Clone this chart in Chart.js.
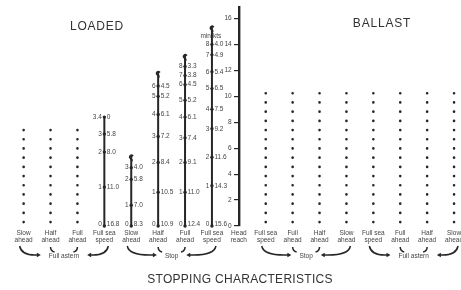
<!DOCTYPE html>
<html>
<head>
<meta charset="utf-8">
<title>Stopping characteristics</title>
<script src="https://cdn.jsdelivr.net/npm/chart.js@4.4.0/dist/chart.umd.min.js"></script>
<style>
  html, body { margin: 0; padding: 0; background: #fff; }
  #wrap { width: 461px; height: 290px; }
</style>
</head>
<body>
<div id="wrap"><canvas id="stopChart"></canvas></div>
<script>
// Stopping characteristics - loaded / ballast

// Columns along the bottom, left to right
const colLabels = [
  ["Slow", "ahead"], ["Half", "ahead"], ["Full", "ahead"], ["Full sea", "speed"],
  ["Slow", "ahead"], ["Half", "ahead"], ["Full", "ahead"], ["Full sea", "speed"],
  ["Head", "reach"],
  ["Full sea", "speed"], ["Full", "ahead"], ["Half", "ahead"], ["Slow", "ahead"],
  ["Full sea", "speed"], ["Full", "ahead"], ["Half", "ahead"], ["Slow", "ahead"],
]

// Head reach axis (cables)
const yTicks = [0, 2, 4, 6, 8, 10, 12, 14, 16]
const axisCol = 8

// Dotted columns: column index, reach from / to
const dottedCols = [0, 1, 2, 9, 10, 11, 12, 13, 14, 15, 16]
const dottedFrom = [0.3, 0.3, 0.3, 0.3, 0.3, 0.3, 0.3, 0.3, 0.3, 0.3, 0.3]
const dottedTo = [7.6, 7.6, 7.6, 10.4, 10.4, 10.4, 10.4, 10.4, 10.4, 10.4, 10.4]

// Solid tracks: column, top of line, broken top?
const trackCols = [3, 4, 5, 6, 7]
const trackTop = [8.4, 5.45, 11.9, 13.2, 15.4]
const trackBreak = [false, true, true, true, true]

// Marks along each track: reach, minutes, knots
const trackDist = [
  [0, 3.0, 5.7, 7.1, 8.4],
  [0, 1.6, 3.6, 4.5],
  [0, 2.6, 4.9, 6.9, 8.6, 10.0, 10.8],
  [0, 2.6, 4.9, 6.8, 8.4, 9.7, 10.9, 11.6, 12.3],
  [0, 3.1, 5.3, 7.5, 9.0, 10.6, 11.9, 13.2, 14.0],
]
const trackMin = [
  ["0", "1", "2", "3", "3.4"],
  ["0", "1", "2", "3"],
  ["0", "1", "2", "3", "4", "5", "6"],
  ["0", "1", "2", "3", "4", "5", "6", "7", "8"],
  ["0", "1", "2", "3", "4", "5", "6", "7", "8"],
]
const trackKts = [
  ["16.8", "11.0", "8.0", "5.8", "0"],
  ["8.3", "7.0", "5.8", "4.0"],
  ["10.9", "10.5", "8.4", "7.2", "6.1", "5.2", "4.5"],
  ["12.4", "11.0", "9.1", "7.4", "6.1", "5.2", "4.5", "3.8", "3.3"],
  ["15.6", "14.3", "11.6", "9.2", "7.5", "6.5", "5.4", "4.9", "4.0"],
]

// Engine order groups under the columns
const groupNames = ["Full astern", "Stop", "Stop", "Full astern"]
const groupFrom = [0, 4, 9, 13]
const groupTo = [3, 7, 12, 16]

const INK = "#262626"
const TEXT = "#444"
const FONT = "'Liberation Sans', Arial, sans-serif"

// Build datasets
const datasets = []

dottedCols.forEach((col, i) => {
  datasets.push({
    data: [{ x: col, y: dottedFrom[i] }, { x: col, y: dottedTo[i] }],
    borderColor: INK,
    borderWidth: 2.6,
    borderDash: [0.1, 9.1],
    borderCapStyle: "round",
    pointRadius: 0,
  })
})

trackCols.forEach((col, i) => {
  const pts = trackDist[i].map((d) => ({ x: col, y: d }))
  pts.push({ x: col, y: trackTop[i] })
  datasets.push({
    data: pts,
    borderColor: INK,
    borderWidth: 2,
    pointRadius: pts.map((p, j) => (j < pts.length - 1 ? 1.7 : 0)),
    pointBackgroundColor: INK,
    pointBorderWidth: 0,
  })
})

// Little break mark on top of an open-ended track
function drawBreak(ctx, x, y) {
  ctx.beginPath()
  ctx.moveTo(x, y + 6)
  ctx.bezierCurveTo(x + 3, y + 4, x - 3.5, y + 3, x - 1, y + 0.5)
  ctx.quadraticCurveTo(x + 0.5, y - 1, x + 1.8, y + 0.8)
  ctx.strokeStyle = INK
  ctx.lineWidth = 1.7
  ctx.stroke()
}

function arrowHead(ctx, x, y, dir) {
  ctx.beginPath()
  ctx.moveTo(x, y)
  ctx.lineTo(x - 4 * dir, y - 2.3)
  ctx.lineTo(x - 4 * dir, y + 2.3)
  ctx.closePath()
  ctx.fill()
}

const decorations = {
  id: "decorations",
  afterDatasetsDraw(chart) {
    const { ctx, chartArea, scales: { x, y } } = chart
    ctx.save()

    // minutes / knots beside each track
    ctx.font = "6.5px " + FONT
    ctx.fillStyle = TEXT
    ctx.textBaseline = "middle"
    trackCols.forEach((col, i) => {
      const px = x.getPixelForValue(col)
      trackDist[i].forEach((d, j) => {
        const py = y.getPixelForValue(d) - (j === 0 ? 2 : 0)
        ctx.textAlign = "right"
        ctx.fillText(trackMin[i][j], px - 2.5, py)
        ctx.textAlign = "left"
        ctx.fillText(trackKts[i][j], px + 2.5, py)
      })
      if (trackBreak[i]) drawBreak(ctx, px, y.getPixelForValue(trackTop[i]))
    })

    // unit header over the longest track
    const last = trackCols.length - 1
    const hx = x.getPixelForValue(trackCols[last])
    const hy = y.getPixelForValue(trackDist[last][trackDist[last].length - 1]) - 8
    ctx.textAlign = "right"
    ctx.fillText("min", hx - 1, hy)
    ctx.textAlign = "left"
    ctx.fillText("kts", hx + 1, hy)

    // engine order groups with arrows
    ctx.font = "6.5px " + FONT
    ctx.strokeStyle = INK
    ctx.fillStyle = INK
    ctx.lineWidth = 1.5
    const yTop = chartArea.bottom + 20
    groupNames.forEach((name, i) => {
      const xa = x.getPixelForValue(groupFrom[i])
      const xb = x.getPixelForValue(groupTo[i])
      const cx = (xa + xb) / 2
      const ty = yTop + 10
      const half = ctx.measureText(name).width / 2
      ctx.fillStyle = TEXT
      ctx.textAlign = "center"
      ctx.fillText(name, cx, ty)
      ctx.fillStyle = INK

      const le = cx - half - 8
      ctx.beginPath()
      ctx.moveTo(xa - 4, yTop)
      ctx.quadraticCurveTo(xa - 2, ty, le - 3, ty - 1)
      ctx.stroke()
      arrowHead(ctx, le, ty - 1, 1)

      const re = cx + half + 8
      ctx.beginPath()
      ctx.moveTo(xb + 4, yTop)
      ctx.quadraticCurveTo(xb + 2, ty, re + 3, ty - 1)
      ctx.stroke()
      arrowHead(ctx, re, ty - 1, -1)

      // inner columns point at the label too
      ;[groupFrom[i] + 1, groupTo[i] - 1].forEach((c) => {
        const ix = x.getPixelForValue(c)
        const dir = ix < cx ? 1 : -1
        ctx.beginPath()
        ctx.moveTo(ix, yTop + 1)
        ctx.quadraticCurveTo(ix, yTop + 5, ix + 4 * dir, yTop + 6)
        ctx.stroke()
      })
    })

    // headings
    ctx.fillStyle = "#333"
    ctx.font = "12px " + FONT
    ctx.textAlign = "center"
    ctx.letterSpacing = "0.8px"
    ctx.fillText("LOADED", 97, chartArea.top + 20)
    ctx.fillText("BALLAST", 382, chartArea.top + 17)
    ctx.letterSpacing = "0.3px"
    ctx.fillText("STOPPING CHARACTERISTICS", 240, chartArea.bottom + 54)

    ctx.restore()
  },
}

new Chart(document.getElementById("stopChart"), {
  type: "line",
  data: { datasets },
  plugins: [decorations],
  options: {
    responsive: true,
    maintainAspectRatio: false,
    animation: false,
    clip: false,
    layout: { padding: { top: 0, left: 0, right: 0, bottom: 43 } },
    plugins: { legend: { display: false }, tooltip: { enabled: false } },
    scales: {
      x: {
        type: "linear",
        min: -0.73,
        max: 16.11,
        afterBuildTicks: (axis) => {
          axis.ticks = colLabels.map((l, i) => ({ value: i }))
        },
        afterFit: (axis) => {
          axis.paddingLeft = 0
          axis.paddingRight = 0
        },
        grid: { display: false, drawTicks: false },
        border: { display: false },
        ticks: {
          autoSkip: false,
          maxRotation: 0,
          padding: 4,
          color: TEXT,
          font: { size: 6.5, family: FONT, lineHeight: 1.0 },
          callback: (v) => colLabels[v],
        },
      },
      y: {
        type: "linear",
        position: { x: axisCol },
        min: 0,
        max: 16.9,
        afterBuildTicks: (axis) => {
          axis.ticks = yTicks.map((v) => ({ value: v }))
        },
        grid: { drawOnChartArea: false, tickLength: 4, color: INK, lineWidth: 1.2 },
        border: { display: true, color: INK, width: 2.4 },
        ticks: {
          color: TEXT,
          font: { size: 6.5, family: FONT },
          callback: (v) => v + "    ",
        },
      },
    },
  },
})
</script>
</body>
</html>
